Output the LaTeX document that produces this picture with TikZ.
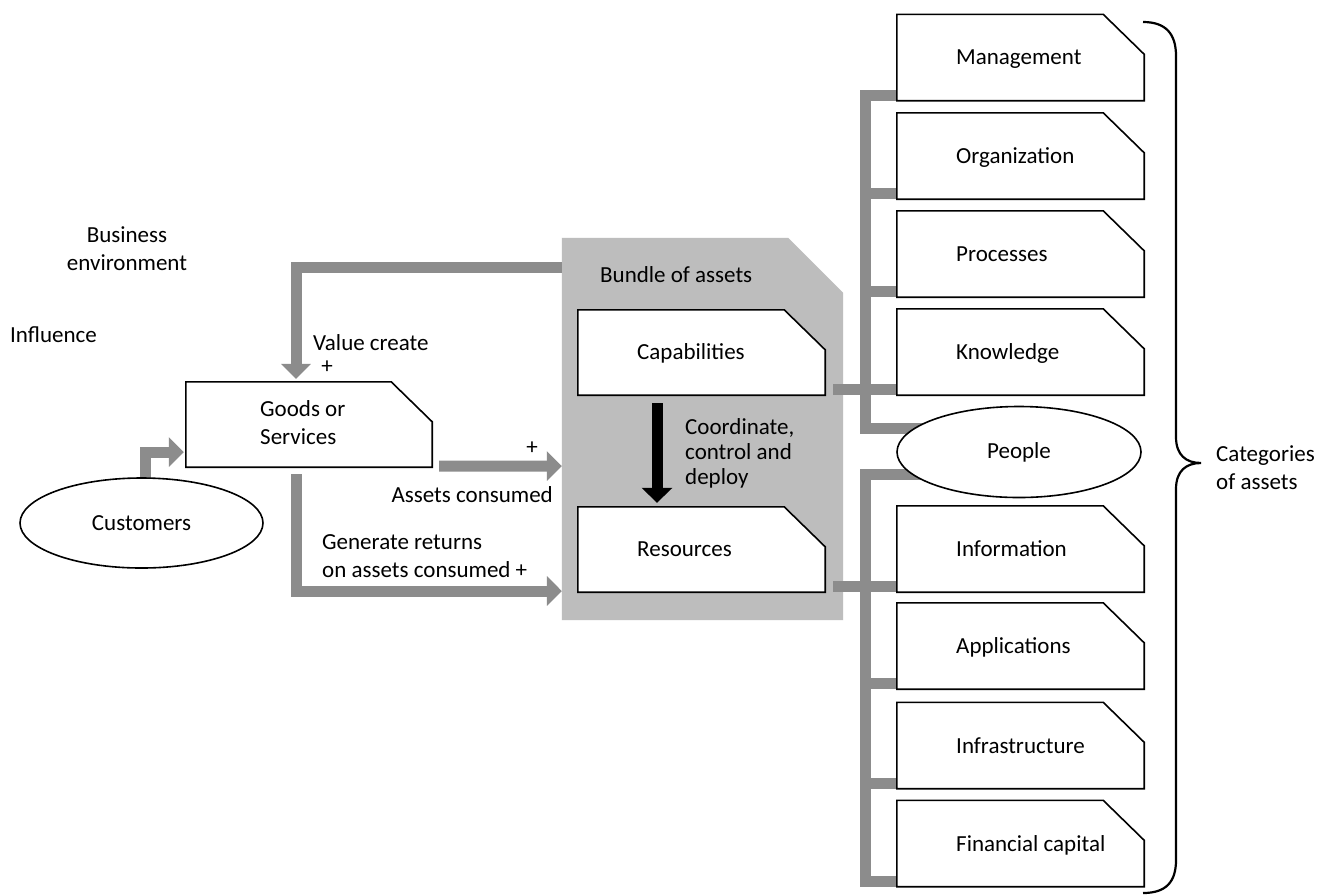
\documentclass[tikz,border=0pt]{standalone}
\usepackage{fontspec}
\setmainfont{Carlito}
\usetikzlibrary{arrows.meta,calc,shapes.geometric}
\pgfdeclarelayer{back}
\pgfdeclarelayer{links}
\pgfsetlayers{back,links,main}
\definecolor{linkgray}{gray}{0.55}
\definecolor{bundlegray}{gray}{0.74}

% white box with the upper right corner cut off
\newcommand\drawcutbox[1]{%
  \path[edge] (#1.north west) -- ([xshift=-41pt]#1.north east)
    -- ([yshift=-40pt]#1.north east) -- (#1.south east) -- (#1.south west) -- cycle;}

\begin{document}
\begin{tikzpicture}[x=1pt,y=-1pt,
  txt/.style={font=\fontsize{23}{28}\selectfont, inner sep=0pt, text=black},
  ltxt/.style={txt, anchor=base west, align=left},
  asset/.style={minimum width=247pt, minimum height=86pt, inner sep=0pt},
  oval/.style={ellipse, draw=black, line width=1.6pt, fill=white, inner sep=0pt, txt},
  edge/.style={line width=1.6pt, draw=black, fill=white, line join=miter},
  link/.style={draw=linkgray, line width=11pt, line join=miter},
  linkarrow/.style={link, -{Triangle[length=15pt,width=29pt]}},
]
\useasboundingbox (0,0) rectangle (1321,895);

% ---- nodes: shapes ----
\node[minimum width=281pt, minimum height=382pt, inner sep=0pt] (bundle) at (702.5,429) {};
\node[minimum width=246pt, minimum height=85pt, inner sep=0pt] (goods) at (309,424.5) {};
\node[minimum width=247pt, minimum height=85pt, inner sep=0pt] (caps) at (701.5,352.5) {};
\node[minimum width=247pt, minimum height=85pt, inner sep=0pt] (res) at (701.5,549.5) {};

\node[asset] (mgmt)  at (1020.5,57.5) {};
\node[asset] (org)   at (1020.5,156) {};
\node[asset] (proc)  at (1020.5,254) {};
\node[asset] (know)  at (1020.5,352) {};
\node[asset] (info)  at (1020.5,549) {};
\node[asset] (app)   at (1020.5,646) {};
\node[asset] (infra) at (1020.5,745.5) {};
\node[asset] (fin)   at (1020.5,843.5) {};

\node[oval, minimum width=243pt, minimum height=90pt] (cust) at (141.5,523) {Customers};
\node[oval, minimum width=244pt, minimum height=91pt] (people) at (1019,452) {People};

\coordinate (busU) at (865,428);
\coordinate (busL) at (865,474);

% ---- page ground and grey field of the bundle ----
\begin{pgfonlayer}{back}
  \fill[white] (0,0) rectangle (1321,895);
  \fill[bundlegray] (bundle.north west) -- ([xshift=-55pt]bundle.north east)
    -- ([yshift=-55pt]bundle.north east) -- (bundle.south east) -- (bundle.south west) -- cycle;
\end{pgfonlayer}

% ---- grey connectors ----
\begin{pgfonlayer}{links}
  \draw[linkarrow, shorten >=2pt] ([xshift=3.5pt,yshift=-3pt]cust.north) |- (goods.west |- 0,452);
  \draw[linkarrow, shorten >=3pt] ([yshift=-30pt]bundle.north west) -| ([xshift=-13pt]goods.north);
  \draw[linkarrow] ([xshift=7pt,yshift=1pt]goods.south east) -- (bundle.west |- 0,466);
  \draw[linkarrow] ([xshift=-13pt,yshift=-7pt]goods.south) |- (bundle.west |- 0,591);

  \draw[link] ([xshift=8pt,yshift=5.5pt]caps.south east) -- ([yshift=5.5pt]know.south west);
  \draw[link] ([xshift=8pt,yshift=5.5pt]res.south east) -- ([yshift=5.5pt]info.south west);

  \draw[link] ([yshift=5.5pt]mgmt.south west) -| (busU) -- (people.center |- busU);
  \foreach \n in {org,proc,know}
    {\draw[link] ([yshift=5.5pt]\n.south west) -- ++(-32.5,0);}
  \draw[link] (people.center |- busL) -- (busL) |- ([yshift=5.5pt]fin.south west);
  \foreach \n in {info,app,infra}
    {\draw[link] ([yshift=5.5pt]\n.south west) -- ++(-32.5,0);}
\end{pgfonlayer}

% ---- box outlines ----
\foreach \n in {goods,caps,res,mgmt,org,proc,know,info,app,infra,fin}
  {\drawcutbox{\n}}

% ---- black arrow from capabilities to resources ----
\draw[line width=11pt, -{Triangle[length=15pt,width=30pt]}]
  ([xshift=-44.5pt,yshift=-8pt]caps.south) -- ([xshift=-44.5pt,yshift=4pt]res.north);

% ---- brace ----
\draw[line width=2.2pt] (1143,22) .. controls (1166,22) and (1176,34) .. (1176,56)
  -- (1176,437) .. controls (1176,455) and (1186,463) .. (1201,463)
  .. controls (1186,463) and (1176,471) .. (1176,489)
  -- (1176,860) .. controls (1176,882) and (1166,893) .. (1143,893);

% ---- texts (multi-line nodes sit on the baseline of their last line) ----
\node[txt, align=center, anchor=base] (bizenv) at (127,270.5) {Business\\environment};
\node[ltxt] (infl) at (10,342.5) {Influence};
\node[ltxt] (vc) at (313,350.5) {Value create};
\node[txt] (plusvc) at (327,367) {+};
\node[ltxt] (goodstext) at (260,444.5) {Goods or\\Services};
\node[txt] (plusac) at (532,448) {+};
\node[txt, anchor=base east] (ac) at (553,502.5) {Assets consumed};
\node[ltxt] (gr) at (322,577.5) {Generate returns\\on assets consumed +};
\node[ltxt] (boa) at (600,282.5) {Bundle of assets};
\node[ltxt] (capstext) at (637,359.5) {Capabilities};
\node[ltxt] (restext) at (637,556.5) {Resources};
\node[ltxt, font=\fontsize{23}{25}\selectfont] (ccd) at (685,484.5) {Coordinate,\\control and\\deploy};

\node[ltxt] (mgmttext)  at (956,64.5) {Management};
\node[ltxt] (orgtext)   at (956,163.5) {Organization};
\node[ltxt] (proctext)  at (956,261.5) {Processes};
\node[ltxt] (knowtext)  at (956,359.5) {Knowledge};
\node[ltxt] (infotext)  at (956,556.5) {Information};
\node[ltxt] (apptext)   at (956,653.5) {Applications};
\node[ltxt] (infratext) at (956,753) {Infrastructure};
\node[ltxt] (fintext)   at (956,851) {Financial capital};

\node[ltxt] (cat) at (1216,489) {Categories\\of assets};
\end{tikzpicture}
\end{document}
